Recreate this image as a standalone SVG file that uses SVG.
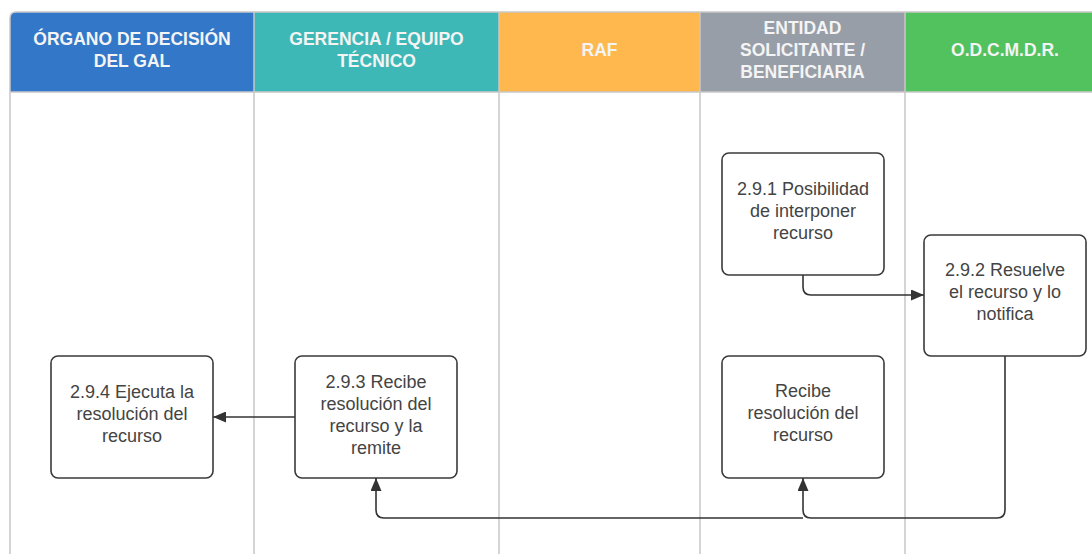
<svg xmlns="http://www.w3.org/2000/svg" width="1092" height="554" viewBox="0 0 1092 554">
<style>
.lane{stroke:#c8c8c8;stroke-width:1.5;fill:none}
.hdr{font-family:"Liberation Sans",Arial,sans-serif;font-size:17.5px;font-weight:bold;fill:#f4f4f4;text-anchor:middle}
.box{fill:#fff;stroke:#3a3a3a;stroke-width:1.6}
.txt{font-family:"Liberation Sans",Arial,sans-serif;font-size:18px;fill:#444;text-anchor:middle}
.con{fill:none;stroke:#333;stroke-width:1.6}
</style>
<defs>
<marker id="ah" viewBox="0 0 13 11" refX="13" refY="5.5" markerWidth="13" markerHeight="11" markerUnits="userSpaceOnUse" orient="auto">
<path d="M0,0 L13,5.5 L0,11 Z" fill="#333"/>
</marker>
</defs>
<rect width="1092" height="554" fill="#fff"/>
<g id="lanes">
<path d="M16,12 H254 V92 H10 V18 Q10,12 16,12 Z" fill="#3377C9"/>
<rect x="254" y="12" width="245" height="80" fill="#3EB8B6"/>
<rect x="499" y="12" width="201" height="80" fill="#FFB84D"/>
<rect x="700" y="12" width="205" height="80" fill="#989EA8"/>
<rect x="905" y="12" width="200" height="80" fill="#52C25F"/>
<path class="lane" d="M10,18 Q10,12 16,12 H1105 M10,92 H1105 M10,18 V554 M254,12 V554 M499,12 V554 M700,12 V554 M905,12 V554"/>
<text class="hdr" x="132" y="45">ÓRGANO DE DECISIÓN</text>
<text class="hdr" x="132" y="67">DEL GAL</text>
<text class="hdr" x="376.5" y="45">GERENCIA / EQUIPO</text>
<text class="hdr" x="376.5" y="67">TÉCNICO</text>
<text class="hdr" x="599.5" y="56">RAF</text>
<text class="hdr" x="802.5" y="34">ENTIDAD</text>
<text class="hdr" x="802.5" y="56">SOLICITANTE /</text>
<text class="hdr" x="802.5" y="78">BENEFICIARIA</text>
<text class="hdr" x="1005" y="56">O.D.C.M.D.R.</text>
</g>
<g id="connectors">
<path class="con" d="M803,275 V287 Q803,295 811,295 H924" marker-end="url(#ah)"/>
<path class="con" d="M1005,356 V510 Q1005,518 997,518 H811 Q803,518 803,510 V478" marker-end="url(#ah)"/>
<path class="con" d="M803,518 H384 Q376,518 376,510 V478" marker-end="url(#ah)"/>
<path class="con" d="M295,417 H213" marker-end="url(#ah)"/>
</g>
<g id="n291">
<rect class="box" x="722" y="153" width="162" height="122" rx="7"/>
<text class="txt" x="803" y="195">2.9.1 Posibilidad</text>
<text class="txt" x="803" y="217">de interponer</text>
<text class="txt" x="803" y="239">recurso</text>
</g>
<g id="n292">
<rect class="box" x="924" y="235" width="162" height="121" rx="7"/>
<text class="txt" x="1005" y="276">2.9.2 Resuelve</text>
<text class="txt" x="1005" y="298">el recurso y lo</text>
<text class="txt" x="1005" y="320">notifica</text>
</g>
<g id="nrecibe">
<rect class="box" x="722" y="356" width="162" height="122" rx="7"/>
<text class="txt" x="803" y="397">Recibe</text>
<text class="txt" x="803" y="419">resolución del</text>
<text class="txt" x="803" y="441">recurso</text>
</g>
<g id="n293">
<rect class="box" x="295" y="356" width="162" height="122" rx="7"/>
<text class="txt" x="376" y="388">2.9.3 Recibe</text>
<text class="txt" x="376" y="410">resolución del</text>
<text class="txt" x="376" y="432">recurso y la</text>
<text class="txt" x="376" y="454">remite</text>
</g>
<g id="n294">
<rect class="box" x="51" y="356" width="162" height="122" rx="7"/>
<text class="txt" x="132" y="398">2.9.4 Ejecuta la</text>
<text class="txt" x="132" y="420">resolución del</text>
<text class="txt" x="132" y="442">recurso</text>
</g>
</svg>
